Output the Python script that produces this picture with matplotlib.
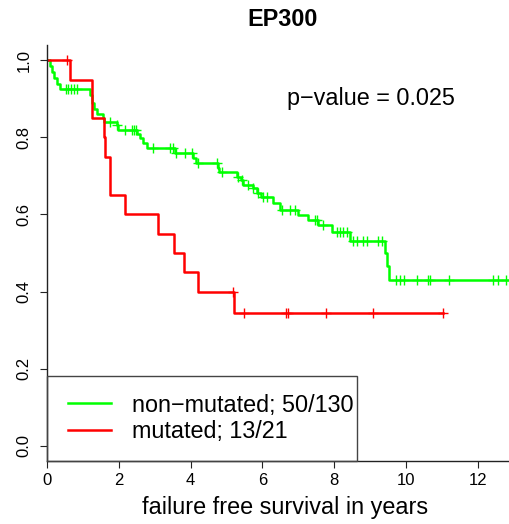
import numpy as np
import matplotlib
matplotlib.use('Agg')
import matplotlib.pyplot as plt
from matplotlib.patches import Rectangle

# Kaplan-Meier step values read as (time after drop, survival)
green_t = [0, 0.08, 0.14, 0.2, 0.28, 0.36, 1.2, 1.25, 1.3, 1.38, 1.55, 1.6,
           1.95, 1.97, 2.5, 2.6, 2.68, 2.78, 3.57, 4.07, 4.15, 4.76, 4.8,
           5.3, 5.4, 5.45, 5.74, 5.85, 5.95, 6.3, 6.5, 6.99, 7.27, 7.55,
           7.94, 8.44, 9.41, 9.47, 9.52]
green_s = [1.0, 0.985, 0.97, 0.955, 0.94, 0.927, 0.91, 0.89, 0.875, 0.862,
           0.85, 0.84, 0.832, 0.819, 0.81, 0.798, 0.785, 0.772, 0.76, 0.747,
           0.733, 0.72, 0.71, 0.697, 0.689, 0.676, 0.668, 0.655, 0.645, 0.63,
           0.611, 0.598, 0.585, 0.572, 0.554, 0.531, 0.5, 0.465, 0.43]
green_end = 12.9
green_cens = [0.53, 0.59, 0.67, 0.75, 0.84, 1.75, 1.95, 2.17, 2.37, 2.42,
              2.48, 2.95, 3.43, 3.51, 3.59, 3.84, 4.04, 4.21, 4.74, 4.87,
              5.32, 5.43, 5.6, 5.74, 5.88, 6.02, 6.13, 6.55, 6.77, 6.91,
              7.47, 7.52, 7.69, 8.08, 8.16, 8.25, 8.36, 8.52, 8.63, 8.8,
              8.91, 9.22, 9.33, 9.72, 9.83, 9.94, 10.31, 10.61, 10.67, 11.2,
              12.42, 12.56, 12.79]

red_t = [0, 0.64, 1.25, 1.59, 1.62, 1.75, 2.17, 3.09, 3.54, 3.82, 4.2, 5.2]
red_s = [1.0, 0.95, 0.85, 0.80, 0.75, 0.65, 0.60, 0.55, 0.50, 0.45, 0.40,
         0.343]
red_end = 11.03
red_cens = [0.56, 5.18, 5.49, 6.66, 6.71, 7.77, 9.08, 11.03]

labels = ['non\u2212mutated; 50/130', 'mutated; 13/21']
p_text = 'p\u2212value = 0.025'

GREEN, RED = '#00FF00', '#FF0000'
plt.rcParams.update({'font.family': ['Liberation Sans', 'DejaVu Sans']})

fig = plt.figure(figsize=(5.1, 5.24), dpi=100)
ax = fig.add_axes([47 / 510, 1 - 461 / 524, 463 / 510, 416 / 524])


def km(ax, t, s, end, cens, col):
    tt = np.append(t, end)
    ss = np.append(s, s[-1])
    ax.step(tt, ss, where='post', color=col, lw=1.8)
    idx = np.searchsorted(t, cens, side='right') - 1
    ax.plot(cens, np.asarray(s)[idx], ls='none', marker='+', ms=7,
            mew=1.0, color=col)


km(ax, green_t, green_s, green_end, green_cens, GREEN)
km(ax, red_t, red_s, red_end, red_cens, RED)

ax.set_xlim(0, 12.9)
ax.set_ylim(-0.04, 1.04)
ax.set_xticks(np.arange(0, 13, 2))
ax.set_yticks(np.arange(0, 1.01, 0.2))
ax.set_yticklabels(['%.1f' % v for v in np.arange(0, 1.01, 0.2)],
                   rotation=90, va='center')
for sp in ('top', 'right'):
    ax.spines[sp].set_visible(False)
for sp in ('left', 'bottom'):
    ax.spines[sp].set_color('#222222')
    ax.spines[sp].set_linewidth(1.0)
ax.tick_params(length=5, width=0.8, labelsize=12, color='#222222')
ax.tick_params(axis='x', pad=3.5)
ax.tick_params(axis='y', pad=6)

ax.set_xlabel('failure free survival in years', fontsize=16.8)
ax.xaxis.set_label_coords(0.514, -0.085)
ax.set_title('EP300', fontsize=16.8, fontweight='bold', x=0.508, pad=14)

ax.text(9.02, 0.90, p_text, fontsize=16.8, ha='center', va='center')

# legend frame in the lower-left corner
ax.add_patch(Rectangle((0, -0.04), 8.63, 0.22, transform=ax.transData,
                       facecolor='none', edgecolor='#444444', lw=1.0,
                       clip_on=False, zorder=3))
h1, = ax.plot([], [], color=GREEN, lw=1.8)
h2, = ax.plot([], [], color=RED, lw=1.8)
ax.legend([h1, h2], labels, loc='center left', frameon=False,
          bbox_to_anchor=(68 / 510, 1 - 418.5 / 524),
          bbox_transform=fig.transFigure, borderpad=0, borderaxespad=0,
          handlelength=1.85, handletextpad=0.9, labelspacing=0.17,
          fontsize=16.8)

fig.savefig('out.png', dpi=100)
